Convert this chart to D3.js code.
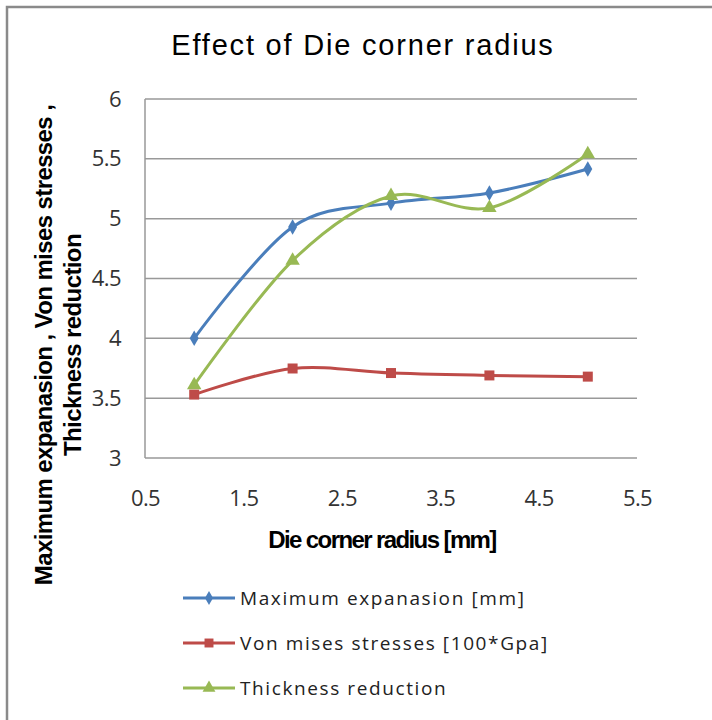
<!DOCTYPE html>
<html>
<head>
<meta charset="utf-8">
<script src="https://cdn.jsdelivr.net/npm/d3@7"></script>
<style>
  body { margin: 0; background: #fff; }
  text { font-family: "Liberation Sans", Arial, sans-serif; }
</style>
</head>
<body>
<div id="chart"></div>
<script>
const radius = [1, 2, 3, 4, 5];
const maxExpansion = [4.0, 4.93, 5.13, 5.215, 5.415];
const vonMises = [3.53, 3.748, 3.71, 3.69, 3.68];
const thickness = [3.61, 4.65, 5.19, 5.09, 5.54];
const xTicks = [0.5, 1.5, 2.5, 3.5, 4.5, 5.5];
const yTicks = [3, 3.5, 4, 4.5, 5, 5.5, 6];

const series = [
    {name: "Maximum expanasion [mm]", values: maxExpansion, color: "#4A7EBB", marker: d3.symbolDiamond, size: 70},
    {name: "Von mises stresses  [100*Gpa]", values: vonMises, color: "#BE4B48", marker: d3.symbolSquare, size: 100},
    {name: "Thickness reduction", values: thickness, color: "#98B954", marker: d3.symbolTriangle, size: 90}
];

const W = 712, H = 720;
const margin = {left: 145, top: 99, right: 75, bottom: 262};
const width = W - margin.left - margin.right,
      height = H - margin.top - margin.bottom;

let svg = d3.select("#chart")
    .append("svg")
    .attr("width", W)
    .attr("height", H);

// outer frame (only top and left edges show)
svg.append("path")
    .attr("d", "M7,720 V7 H712")
    .attr("fill", "none")
    .attr("stroke", "#8a8a8a")
    .attr("stroke-width", 2.5);

let g = svg.append("g")
    .attr("transform", "translate(" + margin.left + "," + margin.top + ")");

let x = d3.scaleLinear().domain([0.5, 5.5]).range([0, width]);
let y = d3.scaleLinear().domain([3, 6]).range([height, 0]);

// gridlines
g.append("g")
    .selectAll("line")
    .data(yTicks)
    .join("line")
    .attr("x1", 0)
    .attr("x2", width)
    .attr("y1", d => y(d))
    .attr("y2", d => y(d))
    .attr("stroke", "#999")
    .attr("stroke-width", 1.5);

g.append("line")
    .attr("x1", 0).attr("x2", 0)
    .attr("y1", 0).attr("y2", height)
    .attr("stroke", "#999")
    .attr("stroke-width", 1.5);

// y tick labels
g.append("g")
    .call(d3.axisLeft(y).tickValues(yTicks).tickSize(0).tickPadding(24).tickFormat(d3.format("")))
    .call(a => a.select(".domain").remove())
    .selectAll("text")
    .style("font-family", "'Open Sans', sans-serif")
    .style("font-size", "22px")
    .style("letter-spacing", "-0.6px")
    .attr("fill", "#333");

// x tick labels
g.append("g")
    .attr("transform", "translate(0," + height + ")")
    .call(d3.axisBottom(x).tickValues(xTicks).tickSize(0).tickPadding(32).tickFormat(d3.format(".1f")))
    .call(a => a.select(".domain").remove())
    .selectAll("text")
    .style("font-family", "'Open Sans', sans-serif")
    .style("font-size", "22px")
    .style("letter-spacing", "-0.6px")
    .attr("fill", "#333");

let line = d3.line()
    .x((d, i) => x(radius[i]))
    .y(d => y(d))
    .curve(d3.curveCatmullRom.alpha(0));

series.forEach(function (s) {
    g.append("path")
        .datum(s.values)
        .attr("fill", "none")
        .attr("stroke", s.color)
        .attr("stroke-width", 3)
        .attr("stroke-linejoin", "round")
        .attr("d", line);

    g.append("g")
        .selectAll("path")
        .data(s.values)
        .join("path")
        .attr("transform", (d, i) => "translate(" + x(radius[i]) + "," + y(d) + ")")
        .attr("d", d3.symbol().type(s.marker).size(s.size))
        .attr("fill", s.color);
});

// title
svg.append("text")
    .attr("x", 363)
    .attr("y", 55)
    .attr("text-anchor", "middle")
    .style("font-size", "29px")
    .style("letter-spacing", "1.8px")
    .attr("fill", "#000")
    .text("Effect of Die corner radius");

// x axis title
svg.append("text")
    .attr("x", 382)
    .attr("y", 548)
    .attr("text-anchor", "middle")
    .style("font-size", "24px")
    .style("font-weight", "bold")
    .style("letter-spacing", "-1.6px")
    .text("Die corner radius [mm]");

// y axis title
let yTitle = svg.append("text")
    .attr("transform", "translate(0,345) rotate(-90)")
    .attr("text-anchor", "middle")
    .style("font-size", "24px")
    .style("font-weight", "bold")
    .style("letter-spacing", "-0.6px");
yTitle.append("tspan").attr("x", 0).attr("y", 52).text("Maximum expanasion , Von mises stresses ,");
yTitle.append("tspan").attr("x", 0).attr("y", 81).text("Thickness reduction");

// legend
let legend = svg.append("g")
    .attr("transform", "translate(183,598)");

series.forEach(function (s, i) {
    let row = legend.append("g").attr("transform", "translate(0," + (i * 45) + ")");
    row.append("line")
        .attr("x1", 0).attr("x2", 52)
        .attr("stroke", s.color)
        .attr("stroke-width", 3);
    row.append("path")
        .attr("transform", "translate(26,0)")
        .attr("d", d3.symbol().type(s.marker).size(s.size * 0.8))
        .attr("fill", s.color);
    row.append("text")
        .attr("x", 57)
        .attr("y", 7)
        .style("font-family", "'Open Sans', sans-serif")
        .style("font-size", "19px")
        .style("letter-spacing", "1.6px")
        .attr("fill", "#222")
        .text(s.name);
});
</script>
</body>
</html>
